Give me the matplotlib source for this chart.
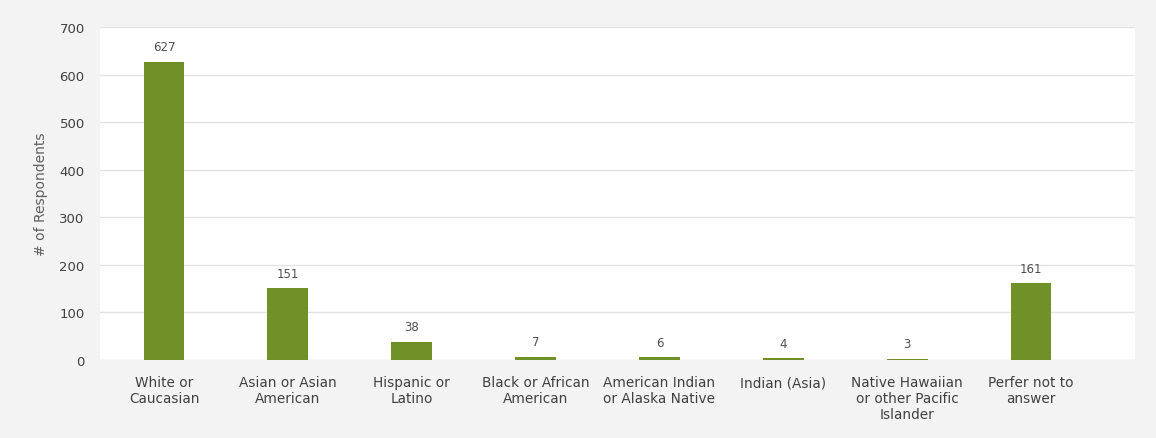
import matplotlib.pyplot as plt

categories = ["White or\nCaucasian", "Asian or Asian\nAmerican", "Hispanic or\nLatino",
              "Black or African\nAmerican", "American Indian\nor Alaska Native", "Indian (Asia)",
              "Native Hawaiian\nor other Pacific\nIslander", "Perfer not to\nanswer"]
counts = [627, 151, 38, 7, 6, 4, 3, 161]
yticks = [0, 100, 200, 300, 400, 500, 600, 700]

fig = plt.figure(figsize=(11.56, 4.39), dpi=100, facecolor="#f3f3f3")
ax = fig.add_axes([100 / 1156, 1 - 361 / 439, 1035 / 1156, 333 / 439])
ax.set_facecolor("white")

x = list(range(len(categories)))
ax.bar(x, counts, width=0.33, color="#6f9128", zorder=3)
for xi, v in zip(x, counts):
    ax.text(xi, v + 18, str(v), ha="center", va="bottom", fontsize=8.5, color="#505050")

ax.set_xlim(-0.517, 7.84)
ax.set_ylim(0, 700)
ax.set_yticks(yticks)
ax.set_xticks(x)
ax.set_xticklabels(categories, fontsize=9.8, color="#404040", linespacing=1.15)
ax.tick_params(axis="y", labelsize=9.5, labelcolor="#404040", length=0, pad=11)
ax.tick_params(axis="x", length=0, pad=11)
ax.yaxis.grid(True, color="#e3e3e3", linewidth=1, zorder=0)
for s in ax.spines.values():
    s.set_visible(False)
ax.set_ylabel("# of Respondents", fontsize=10, color="#606060", labelpad=8)

plt.savefig("out.png", dpi=100, facecolor=fig.get_facecolor())
